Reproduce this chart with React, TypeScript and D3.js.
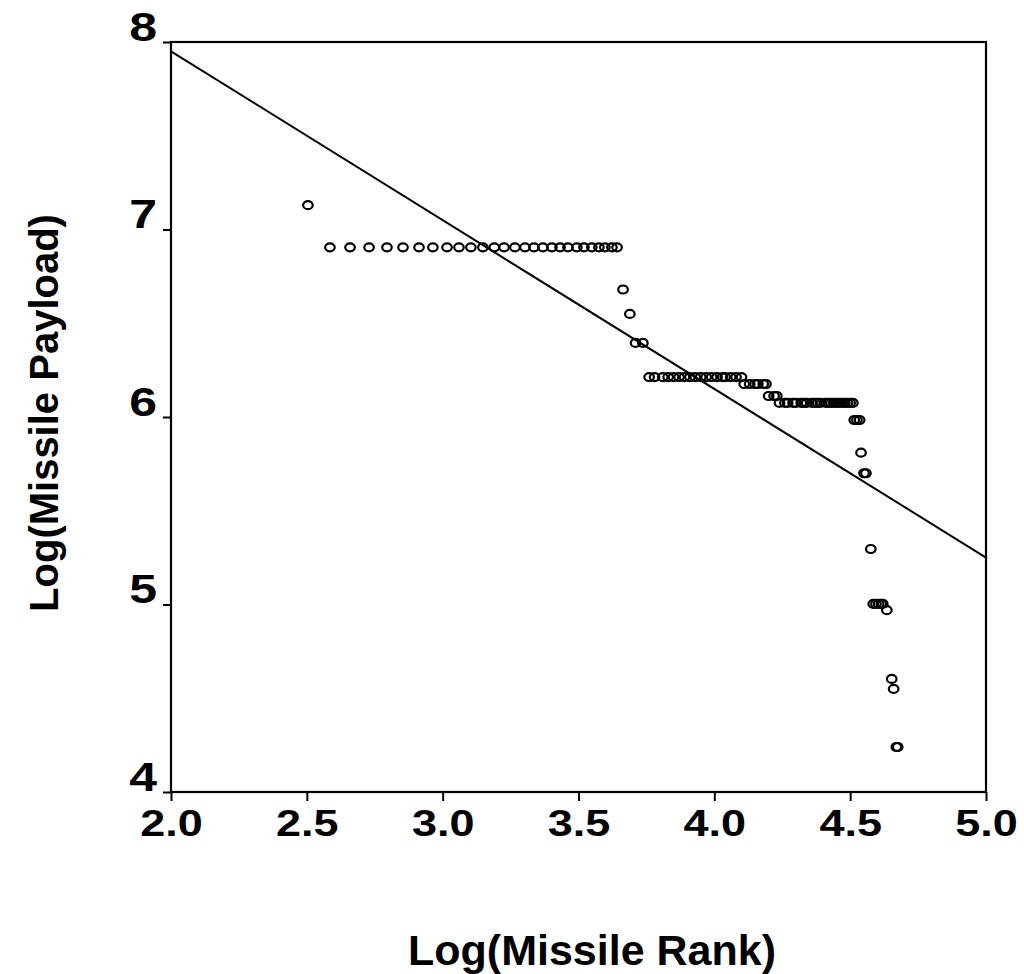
import React, { useEffect, useRef } from "react";
import * as d3 from "d3";

// log(rank) / log(payload) points, grouped by step
const stepX = [
  [2.504],
  [2.585, 2.659, 2.729, 2.795, 2.854, 2.913, 2.964, 3.016, 3.06, 3.104, 3.148, 3.19,
    3.226, 3.266, 3.303, 3.336, 3.369, 3.402, 3.432, 3.461, 3.494, 3.52, 3.549, 3.575, 3.597, 3.623, 3.642],
  [3.664],
  [3.689],
  [3.71, 3.737],
  [3.76, 3.78, 3.81, 3.83, 3.85, 3.87, 3.89, 3.91, 3.93, 3.95, 3.97, 3.99, 4.01, 4.03, 4.04, 4.06, 4.08, 4.1],
  [4.11, 4.13, 4.15, 4.16, 4.18, 4.19],
  [4.2, 4.22, 4.23],
  [4.24, 4.26, 4.27, 4.29, 4.3, 4.32, 4.33, 4.34, 4.36, 4.37, 4.38, 4.39, 4.41, 4.42, 4.43, 4.44, 4.45, 4.46, 4.47, 4.48, 4.49, 4.5, 4.51],
  [4.515, 4.525, 4.535],
  [4.54],
  [4.551, 4.558],
  [4.576],
  [4.585, 4.595, 4.605, 4.615, 4.62],
  [4.635],
  [4.653],
  [4.66],
  [4.67, 4.675],
];
const stepY = [7.13, 6.905, 6.68, 6.55, 6.395, 6.213, 6.176, 6.112, 6.075, 5.984, 5.81, 5.7, 5.296, 5.003, 4.97, 4.603, 4.55, 4.24];

// fitted line
const fitX = [2.0, 5.0];
const fitY = [7.95, 5.25];

const xTicks = [2.0, 2.5, 3.0, 3.5, 4.0, 4.5, 5.0];
const yTicks = [4, 5, 6, 7, 8];

function App() {
  const ref = useRef(null);

  useEffect(() => {
    const width = 1024;
    const height = 974;
    const left = 171, right = 986, top = 42, bottom = 792;
    const font = "'Liberation Sans', Arial, sans-serif";
    const stretch = 1.25; // tick labels are wide in the scan

    const x = d3.scaleLinear().domain([2, 5]).range([left, right]);
    const y = d3.scaleLinear().domain([4, 8]).range([bottom, top]);

    d3.select(ref.current).selectAll("*").remove();
    const svg = d3
      .select(ref.current)
      .append("svg")
      .attr("width", width)
      .attr("height", height)
      .style("position", "absolute")
      .style("left", 0)
      .style("top", 0)
      .style("background", "#fff");

    const pts = [];
    stepX.forEach((xs, i) => xs.forEach((v) => pts.push([v, stepY[i]])));

    // frame
    svg.append("rect")
      .attr("x", left).attr("y", top)
      .attr("width", right - left).attr("height", bottom - top)
      .attr("fill", "none").attr("stroke", "#000").attr("stroke-width", 2.2);

    const xAxis = svg.append("g")
      .attr("transform", `translate(0,${bottom})`)
      .call(d3.axisBottom(x).tickValues(xTicks).tickFormat(d3.format(".1f")).tickSize(9).tickPadding(9));
    xAxis.select(".domain").remove();
    xAxis.selectAll("line").attr("stroke-width", 2);
    xAxis.selectAll("text")
      .attr("font-family", font).attr("font-size", 36).attr("font-weight", "bold").attr("fill", "#000")
      .attr("transform", `scale(${stretch},1)`);

    const yAxis = svg.append("g")
      .attr("transform", `translate(${left},0)`)
      .call(d3.axisLeft(y).tickValues(yTicks).tickFormat(d3.format("d")).tickSize(8).tickPadding(10));
    yAxis.select(".domain").remove();
    yAxis.selectAll("line").attr("stroke-width", 2);
    yAxis.selectAll("text")
      .attr("font-family", font).attr("font-size", 40).attr("font-weight", "bold").attr("fill", "#000")
      .attr("x", -14 / stretch)
      .attr("dy", "-0.05em")
      .attr("transform", `scale(${stretch},1)`);

    const line = d3.line().x((d) => x(d[0])).y((d) => y(d[1]));
    svg.append("path")
      .datum(fitX.map((v, i) => [v, fitY[i]]))
      .attr("d", line)
      .attr("fill", "none").attr("stroke", "#000").attr("stroke-width", 2);

    svg.append("g")
      .selectAll("ellipse")
      .data(pts)
      .enter()
      .append("ellipse")
      .attr("cx", (d) => x(d[0]))
      .attr("cy", (d) => y(d[1]))
      .attr("rx", 4.8)
      .attr("ry", 4)
      .attr("fill", "none")
      .attr("stroke", "#000")
      .attr("stroke-width", 2.2);

    svg.append("text")
      .attr("x", 592).attr("y", 965)
      .attr("text-anchor", "middle")
      .attr("font-family", font).attr("font-size", 43).attr("font-weight", "bold")
      .text("Log(Missile Rank)");

    svg.append("text")
      .attr("transform", `translate(58,413) rotate(-90)`)
      .attr("text-anchor", "middle")
      .attr("font-family", font).attr("font-size", 40).attr("font-weight", "bold")
      .text("Log(Missile Payload)");
  }, []);

  return <div ref={ref}></div>;
}

export default App;
